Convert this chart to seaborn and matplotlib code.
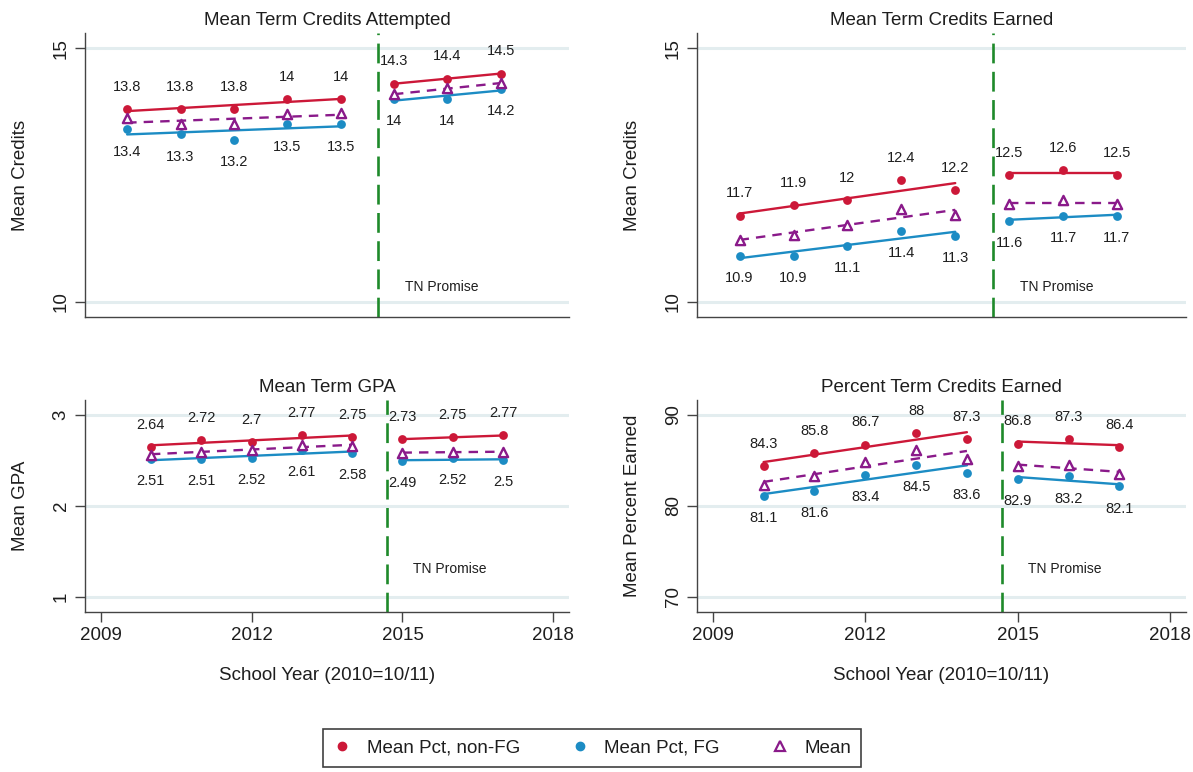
import numpy as np
import pandas as pd
import matplotlib
matplotlib.use("Agg")
import matplotlib.pyplot as plt
from matplotlib.lines import Line2D
import seaborn as sns

# ---------------- data ----------------
years_pre = [2010, 2011, 2012, 2013, 2014]
years_post = [2015, 2016, 2017]
policy_year = 2014.7

attempted_nonfg = [13.8, 13.8, 13.8, 14.0, 14.0, 14.3, 14.4, 14.5]
attempted_fg = [13.4, 13.3, 13.2, 13.5, 13.5, 14.0, 14.0, 14.2]
attempted_mean = [13.62, 13.51, 13.50, 13.70, 13.72, 14.09, 14.21, 14.31]

earned_nonfg = [11.7, 11.9, 12.0, 12.4, 12.2, 12.5, 12.6, 12.5]
earned_fg = [10.9, 10.9, 11.1, 11.4, 11.3, 11.6, 11.7, 11.7]
earned_mean = [11.22, 11.32, 11.51, 11.82, 11.71, 11.92, 12.00, 11.92]

gpa_nonfg = [2.64, 2.72, 2.70, 2.77, 2.75, 2.73, 2.75, 2.77]
gpa_fg = [2.51, 2.51, 2.52, 2.61, 2.58, 2.49, 2.52, 2.50]
gpa_mean = [2.56, 2.59, 2.61, 2.67, 2.65, 2.58, 2.59, 2.59]

pct_nonfg = [84.3, 85.8, 86.7, 88.0, 87.3, 86.8, 87.3, 86.4]
pct_fg = [81.1, 81.6, 83.4, 84.5, 83.6, 82.9, 83.2, 82.1]
pct_mean = [82.3, 83.2, 84.8, 86.1, 85.1, 84.3, 84.5, 83.5]

titles = ["Mean Term Credits Attempted", "Mean Term Credits Earned",
          "Mean Term GPA", "Percent Term Credits Earned"]
ylabels = ["Mean Credits", "Mean Credits", "Mean GPA", "Mean Percent Earned"]
yticks_top = [10, 15]
yticks_gpa = [1, 2, 3]
yticks_pct = [70, 80, 90]
xticks_bottom = [2009, 2012, 2015, 2018]
xlabel = "School Year (2010=10/11)"
policy_label = "TN Promise"
legend_labels = ["Mean Pct, non-FG", "Mean Pct, FG", "Mean"]

# ---------------- style ----------------
sns.set_style("white")
plt.rcParams["font.family"] = ["Liberation Sans", "DejaVu Sans"]

RED = "#CC1838"
BLUE = "#1C8CC4"
PURPLE = "#8A1A8A"
GREEN = "#1E8A2A"
GRID = "#E3EDEF"
TXT = "#1E1E1E"

W, H = 1193, 772
fig = plt.figure(figsize=(W / 100, H / 100), dpi=100)

def px_axes(x0, y0, x1, y1):
    return fig.add_axes([x0 / W, 1 - y1 / H, (x1 - x0) / W, (y1 - y0) / H])

ax_tl = px_axes(85, 33, 569, 317)
ax_tr = px_axes(697, 33, 1186, 317)
ax_bl = px_axes(85, 400, 569, 612)
ax_br = px_axes(697, 400, 1186, 612)

panels = [
    (ax_tl, attempted_nonfg, attempted_fg, attempted_mean, yticks_top, (9.70, 15.30), 10.3, True),
    (ax_tr, earned_nonfg, earned_fg, earned_mean, yticks_top, (9.70, 15.30), 10.3, True),
    (ax_bl, gpa_nonfg, gpa_fg, gpa_mean, yticks_gpa, (0.83, 3.16), 1.3, False),
    (ax_br, pct_nonfg, pct_fg, pct_mean, yticks_pct, (68.3, 91.6), 73.0, False),
]

years_all = years_pre + years_post
npre = len(years_pre)

for i, (ax, nonfg, fg, mean, yt, ylim, ytxt, top) in enumerate(panels):
    df = pd.DataFrame({"year": years_all, "nonfg": nonfg, "fg": fg, "mean": mean})
    df["period"] = ["pre"] * npre + ["post"] * len(years_post)

    for per in ["pre", "post"]:
        d = df[df["period"] == per]
        sns.regplot(data=d, x="year", y="nonfg", ax=ax, scatter=False, ci=None,
                    truncate=True, color=RED, line_kws=dict(lw=1.7, zorder=3))
        sns.regplot(data=d, x="year", y="fg", ax=ax, scatter=False, ci=None,
                    truncate=True, color=BLUE, line_kws=dict(lw=1.7, zorder=3))
        sns.regplot(data=d, x="year", y="mean", ax=ax, scatter=False, ci=None,
                    truncate=True, color=PURPLE,
                    line_kws=dict(lw=1.7, zorder=3, dashes=(4, 3)))

    sns.scatterplot(data=df, x="year", y="nonfg", ax=ax, color=RED, s=40,
                    linewidth=0, zorder=4)
    sns.scatterplot(data=df, x="year", y="fg", ax=ax, color=BLUE, s=40,
                    linewidth=0, zorder=4)
    sns.scatterplot(data=df, x="year", y="mean", ax=ax, marker="^", s=44,
                    facecolor="white", edgecolor=PURPLE, linewidth=1.7, zorder=5)

    for x, v in zip(years_all, nonfg):
        ax.annotate(f"{v:g}", (x, v), xytext=(0, 16), textcoords="offset points",
                    ha="center", va="center", fontsize=10.5, color=TXT)
    for x, v in zip(years_all, fg):
        ax.annotate(f"{v:g}", (x, v), xytext=(0, -16), textcoords="offset points",
                    ha="center", va="center", fontsize=10.5, color=TXT)

    ax.axvline(policy_year, color=GREEN, lw=1.9, dashes=(7.5, 3.2), zorder=2)
    ax.text(2015.2, ytxt, policy_label, fontsize=10, color=TXT, ha="left", va="center")

    ax.set_ylim(*ylim)
    ax.set_yticks(yt)
    ax.set_yticklabels([str(t) for t in yt], rotation=90, va="center")
    ax.yaxis.grid(True, color=GRID, lw=2.2)
    ax.xaxis.grid(False)
    ax.set_axisbelow(True)

    for s in ["top", "right"]:
        ax.spines[s].set_visible(False)
    for s in ["left", "bottom"]:
        ax.spines[s].set_color("#444444")
        ax.spines[s].set_linewidth(1.0)

    ax.tick_params(axis="y", direction="out", length=7, width=1, color="#444444",
                   labelsize=13.5, labelcolor=TXT, pad=4, left=True)
    ax.set_ylabel(ylabels[i], fontsize=13.5, color=TXT, labelpad=17)
    ax.set_title(titles[i], fontsize=13.5, color=TXT, pad=6)

    if top:
        ax.set_xlim(2009.21, 2018.28)
        ax.tick_params(axis="x", bottom=False, labelbottom=False)
        ax.set_xlabel("")
    else:
        ax.set_xlim(2008.69, 2018.31)
        ax.set_xticks(xticks_bottom)
        ax.set_xticklabels([str(t) for t in xticks_bottom])
        ax.tick_params(axis="x", direction="out", length=7, width=1, color="#444444",
                       labelsize=13.5, labelcolor=TXT, pad=4, bottom=True)
        ax.set_xlabel(xlabel, fontsize=13.5, color=TXT, labelpad=16)

handles = [
    Line2D([], [], ls="none", marker="o", color=RED, markersize=6),
    Line2D([], [], ls="none", marker="o", color=BLUE, markersize=6),
    Line2D([], [], ls="none", marker="^", markerfacecolor="white",
           markeredgecolor=PURPLE, markeredgewidth=1.6, markersize=6.5),
]
leg = fig.legend(handles, legend_labels, loc="center", bbox_to_anchor=(592 / W, 1 - 748 / H),
                 ncol=3, fontsize=13.5, frameon=True, fancybox=False,
                 handlelength=1.0, handletextpad=0.8, columnspacing=2.7,
                 borderpad=0.55, edgecolor="#111111")
leg.get_frame().set_linewidth(1.2)
for t in leg.get_texts():
    t.set_color(TXT)

fig.savefig("out.png", dpi=100)
